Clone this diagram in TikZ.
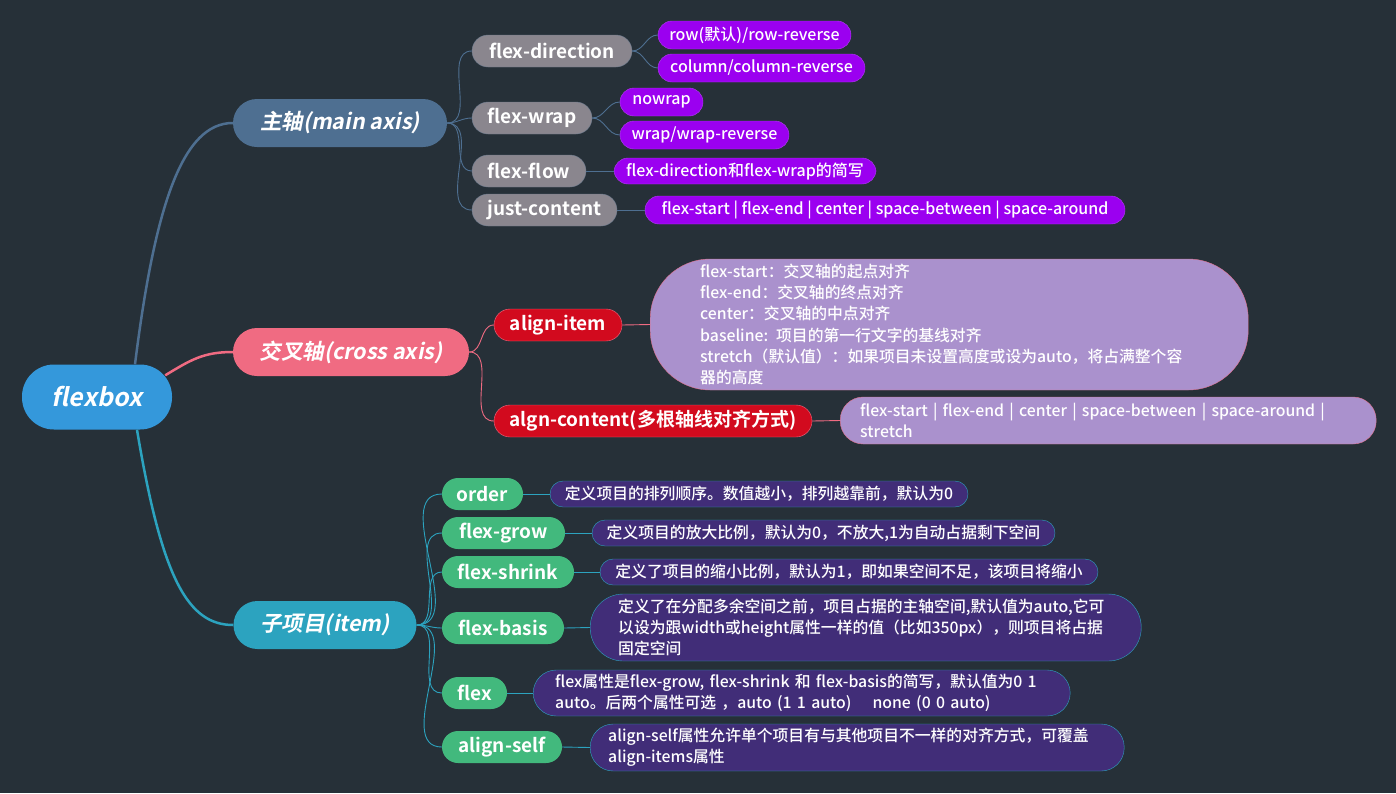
\documentclass[tikz,border=0pt]{standalone}
\usepackage{fontspec}
\setmainfont{Noto Sans CJK SC}[BoldFont={Noto Sans CJK SC Bold}]
\newfontfamily\slantfont{Noto Sans CJK SC Bold}[FakeSlant=0.2]
\newfontfamily\medfont{Noto Sans CJK SC Medium}
\usepackage{tikz}
\usetikzlibrary{positioning}
\definecolor{bgdark}{RGB}{38,48,56}
\definecolor{rootblue}{RGB}{52,152,219}
\definecolor{mainblue}{RGB}{78,111,145}
\definecolor{crosspink}{RGB}{240,107,130}
\definecolor{itemteal}{RGB}{44,163,191}
\definecolor{subgray}{RGB}{138,134,142}
\definecolor{leafviolet}{RGB}{155,0,240}
\definecolor{subred}{RGB}{210,10,30}
\definecolor{notelilac}{RGB}{170,145,205}
\definecolor{subgreen}{RGB}{66,185,125}
\definecolor{notenavy}{RGB}{65,45,120}

\begin{document}
\begin{tikzpicture}[
    x=1pt, y=-1pt,
    root/.style={rectangle, fill=rootblue, text=white, font=\slantfont\fontsize{25}{29}\selectfont, minimum width=150pt, minimum height=65pt, rounded corners=32pt},
    topic/.style={rectangle, text=white, font=\slantfont\fontsize{21.5}{25}\selectfont, minimum height=48pt, rounded corners=24pt},
    attr/.style={rectangle, text=white, font=\bfseries\fontsize{19}{22}\selectfont, minimum height=32pt, rounded corners=16pt, inner xsep=0pt},
    value/.style={rectangle, fill=leafviolet, draw=leafviolet!75!white, text=white, font=\medfont\fontsize{16}{19}\selectfont, minimum height=28pt, rounded corners=14pt, inner xsep=0pt},
    note/.style={rectangle, text=white, align=left, font=\medfont\fontsize{15.8}{21.3}\selectfont, anchor=west},
    memo/.style={rectangle, fill=notenavy, draw=itemteal, text=white, font=\medfont\fontsize{15.8}{19}\selectfont, minimum height=26pt, rounded corners=13pt, inner xsep=0pt},
    link/.style={line width=2.5pt},
    twig/.style={line width=0.9pt}
]
    \fill[bgdark] (0,0) rectangle (1396,793);
    \useasboundingbox (0,0) rectangle (1396,793);

    % Root and the three topics
    \node[root] (root) at (97,397) {flexbox};
    \node[topic, fill=mainblue, minimum width=214pt] (main) at (340,123) {主轴(main axis)};
    \node[topic, fill=crosspink, minimum width=236pt] (cross) at (351,352) {交叉轴(cross axis)};
    \node[topic, fill=itemteal, minimum width=183pt] (item) at (325,625) {子项目(item)};

    % Main axis — properties
    \node[attr, fill=subgray, draw=mainblue!50!subgray, minimum width=160pt] (fdir) at (552,51) {flex-direction};
    \node[attr, fill=subgray, draw=mainblue!50!subgray, minimum width=120pt] (fwrap) at (532,118) {flex-wrap};
    \node[attr, fill=subgray, draw=mainblue!50!subgray, minimum width=114pt] (fflow) at (529,171) {flex-flow};
    \node[attr, fill=subgray, draw=mainblue!50!subgray, minimum width=145pt] (jcont) at (544.5,210) {just-content};

    \node[value, minimum width=193pt] (vrow) at (754.5,35) {row(默认)/row-reverse};
    \node[value, minimum width=207pt] (vcol) at (761.5,68) {column/column-reverse};
    \node[value, minimum width=83pt] (vnowrap) at (661.5,102) {nowrap};
    \node[value, minimum width=169pt] (vwrap) at (704.5,135) {wrap/wrap-reverse};
    \node[value, minimum width=262pt, minimum height=26pt] (vflow) at (745,171) {flex-direction和flex-wrap的简写};
    \node[value, minimum width=480pt] (vjust) at (885,210) {flex-start | flex-end | center | space-between | space-around};

    % Cross axis — properties
    \node[attr, fill=subred, draw=crosspink, minimum width=128pt] (aitem) at (558,325) {align-item};
    \node[attr, fill=subred, draw=crosspink, minimum width=318pt] (acont) at (653,421) {algn-content(多根轴线对齐方式)};

    \node[note, fill=notelilac, draw=crosspink!80!notelilac, minimum height=131pt, rounded corners=60pt, inner xsep=50pt, text width=498pt] (nitem) at (650,324.5)
        {flex-start：交叉轴的起点对齐\\flex-end：交叉轴的终点对齐\\center：交叉轴的中点对齐\\baseline: 项目的第一行文字的基线对齐\\stretch（默认值）：如果项目未设置高度或设为auto，将占满整个容\\器的高度};
    \node[note, fill=notelilac, draw=crosspink!80!notelilac, minimum height=47pt, rounded corners=23pt, inner xsep=20pt, text width=496pt] (ncont) at (840,420.5)
        {flex-start | flex-end | center | space-between | space-around |\\stretch};

    % Item — properties
    \node[attr, fill=subgreen, minimum width=81pt] (gorder) at (482.5,494) {order};
    \node[attr, fill=subgreen, minimum width=123pt] (ggrow) at (503.5,533) {flex-grow};
    \node[attr, fill=subgreen, minimum width=132pt] (gshrink) at (508,572) {flex-shrink};
    \node[attr, fill=subgreen, minimum width=122pt] (gbasis) at (503,628) {flex-basis};
    \node[attr, fill=subgreen, minimum width=65pt] (gflex) at (474.5,693) {flex};
    \node[attr, fill=subgreen, minimum width=120pt] (gself) at (502,747) {align-self};

    \node[memo, minimum width=418pt] (norder) at (759,494) {定义项目的排列顺序。数值越小，排列越靠前，默认为0};
    \node[memo, minimum width=463pt] (ngrow) at (823.5,533) {定义项目的放大比例，默认为0，不放大,1为自动占据剩下空间};
    \node[memo, minimum width=498pt] (nshrink) at (849,572) {定义了项目的缩小比例，默认为1，即如果空间不足，该项目将缩小};
    \node[note, fill=notenavy, draw=itemteal, minimum height=67pt, rounded corners=33pt, inner xsep=28pt, text width=495pt] (nbasis) at (590,627.5)
        {定义了在分配多余空间之前，项目占据的主轴空间,默认值为auto,它可\\以设为跟width或height属性一样的值（比如350px），则项目将占据\\固定空间};
    \node[note, fill=notenavy, draw=itemteal, minimum height=46pt, rounded corners=23pt, inner xsep=22pt, text width=493pt] (nflex) at (533,693)
        {flex属性是flex-grow, flex-shrink 和 flex-basis的简写，默认值为0 1\\auto。后两个属性可选 ，auto (1 1 auto)\quad\ none (0 0 auto)};
    \node[note, fill=notenavy, draw=itemteal, minimum height=47pt, rounded corners=23pt, inner xsep=18pt, text width=498pt] (nself) at (590,747.5)
        {align-self属性允许单个项目有与其他项目不一样的对齐方式，可覆盖\\align-items属性};

    % Links from the root
    \draw[link, mainblue] ([xshift=38pt]root.north) .. controls +(20,-160) and +(-50,0) .. (main.west);
    \draw[link, crosspink] ([xshift=-7pt,yshift=-11pt]root.north east) .. controls +(25,-15) and +(-30,0) .. (cross.west);
    \draw[link, itemteal] ([xshift=40pt]root.south) .. controls +(25,150) and +(-45,0) .. (item.west);

    % Links in each branch
    \foreach \n in {fdir, fwrap, fflow, jcont}
        \draw[twig, mainblue] (main.east) to[out=0, in=180] (\n.west);
    \draw[twig, mainblue] (fdir.east) to[out=0, in=180] (vrow.west);
    \draw[twig, mainblue] (fdir.east) to[out=0, in=180] (vcol.west);
    \draw[twig, mainblue] (fwrap.east) to[out=0, in=180] (vnowrap.west);
    \draw[twig, mainblue] (fwrap.east) to[out=0, in=180] (vwrap.west);
    \draw[twig, mainblue] (fflow) -- (vflow);
    \draw[twig, mainblue] (jcont) -- (vjust);

    \foreach \n in {aitem, acont}
        \draw[twig, crosspink] (cross.east) to[out=0, in=180] (\n.west);
    \draw[twig, crosspink] (aitem.east) -- (nitem.west);
    \draw[twig, crosspink] (acont.east) -- (ncont.west);

    \foreach \n/\m in {gorder/norder, ggrow/ngrow, gshrink/nshrink, gbasis/nbasis, gflex/nflex, gself/nself} {
        \draw[twig, itemteal] (item.east) to[out=0, in=180] (\n.west);
        \draw[twig, itemteal] (\n.east) -- (\m.west);
    }
\end{tikzpicture}
\end{document}
